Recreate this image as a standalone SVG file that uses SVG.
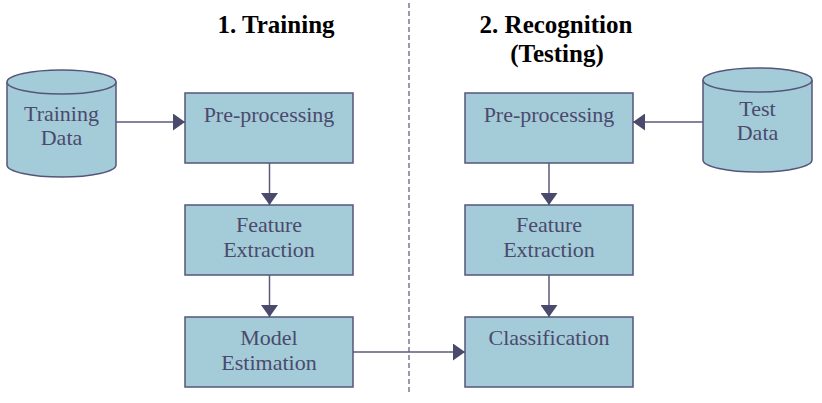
<svg xmlns="http://www.w3.org/2000/svg" width="822" height="403" viewBox="0 0 822 403">
<style>
.box{fill:#a4cbd8;stroke:#55557a;stroke-width:1.5}
.lbl{font-family:"Liberation Serif","Times New Roman",serif;font-size:22px;fill:#4a4a6c;text-anchor:middle}
.ttl{font-family:"Liberation Serif","Times New Roman",serif;font-size:25px;font-weight:bold;fill:#000;text-anchor:middle}
.con{stroke:#5a5a7c;stroke-width:1.5;fill:none}
</style>
<defs>
<marker id="ah" viewBox="0 0 12 17" refX="12" refY="8.5" markerWidth="12" markerHeight="17" markerUnits="userSpaceOnUse" orient="auto">
<path d="M0,0 L12,8.5 L0,17 Z" fill="#4a4a6c"/>
</marker>
</defs>
<rect width="822" height="403" fill="#fff"/>
<line x1="409" y1="3" x2="409" y2="392" stroke="#55557a" stroke-width="1.2" stroke-dasharray="5,3"/>
<g id="titles">
<text class="ttl" x="276" y="33">1. Training</text>
<text class="ttl" x="556" y="33">2. Recognition</text>
<text class="ttl" x="557" y="62">(Testing)</text>
</g>
<g id="training-data">
<path class="box" d="M7,82 L7,165 A54.5,12 0 0 0 116,165 L116,82"/>
<ellipse class="box" cx="61.5" cy="82" rx="54.5" ry="12"/>
<text class="lbl" x="61.5" y="121">Training</text>
<text class="lbl" x="61.5" y="145">Data</text>
</g>
<g id="test-data">
<path class="box" d="M703,80 L703,160 A54.5,12 0 0 0 812,160 L812,80"/>
<ellipse class="box" cx="757.5" cy="80" rx="54.5" ry="12"/>
<text class="lbl" x="757.5" y="116">Test</text>
<text class="lbl" x="757.5" y="140">Data</text>
</g>
<g id="pre-processing-1">
<rect class="box" x="185" y="93" width="168" height="70"/>
<text class="lbl" x="269" y="122">Pre-processing</text>
</g>
<g id="feature-extraction-1">
<rect class="box" x="185" y="205" width="168" height="70"/>
<text class="lbl" x="269" y="232">Feature</text>
<text class="lbl" x="269" y="257">Extraction</text>
</g>
<g id="model-estimation">
<rect class="box" x="185" y="317" width="168" height="70"/>
<text class="lbl" x="269" y="345">Model</text>
<text class="lbl" x="269" y="370">Estimation</text>
</g>
<g id="pre-processing-2">
<rect class="box" x="465" y="93" width="168" height="70"/>
<text class="lbl" x="549" y="122">Pre-processing</text>
</g>
<g id="feature-extraction-2">
<rect class="box" x="465" y="205" width="168" height="70"/>
<text class="lbl" x="549" y="232">Feature</text>
<text class="lbl" x="549" y="257">Extraction</text>
</g>
<g id="classification">
<rect class="box" x="465" y="317" width="168" height="70"/>
<text class="lbl" x="549" y="345">Classification</text>
</g>
<g id="connectors">
<line class="con" x1="116" y1="122" x2="185" y2="122" marker-end="url(#ah)"/>
<line class="con" x1="703" y1="122" x2="633" y2="122" marker-end="url(#ah)"/>
<line class="con" x1="269.5" y1="163" x2="269.5" y2="205" marker-end="url(#ah)"/>
<line class="con" x1="269.5" y1="275" x2="269.5" y2="317" marker-end="url(#ah)"/>
<line class="con" x1="549" y1="163" x2="549" y2="205" marker-end="url(#ah)"/>
<line class="con" x1="549" y1="275" x2="549" y2="317" marker-end="url(#ah)"/>
<line class="con" x1="353" y1="352" x2="465" y2="352" marker-end="url(#ah)"/>
</g>
</svg>
